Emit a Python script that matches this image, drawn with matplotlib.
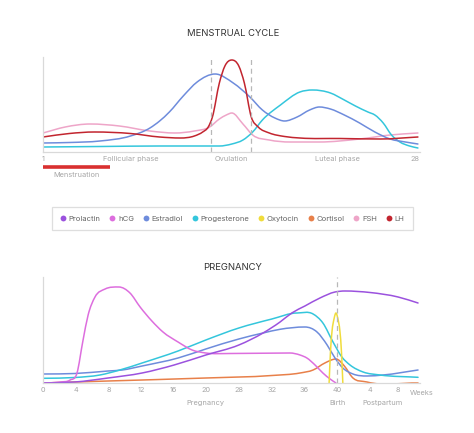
import numpy as np
import matplotlib
matplotlib.use("Agg")
import matplotlib.pyplot as plt
from matplotlib.path import Path
from matplotlib.patches import PathPatch
from matplotlib.lines import Line2D

plt.rcParams['font.family'] = ['Inter', 'DejaVu Sans']

# ---- colours of the hormones ----
hormones = ['Prolactin', 'hCG', 'Estradiol', 'Progesterone', 'Oxytocin', 'Cortisol', 'FSH', 'LH']
colors = {
    'Prolactin': '#9b52de',
    'hCG': '#dd6ede',
    'Estradiol': '#6e8cdc',
    'Progesterone': '#34c6dc',
    'Oxytocin': '#f0dc3c',
    'Cortisol': '#e8804a',
    'FSH': '#eea5c8',
    'LH': '#c2252f',
}

# ---- menstrual cycle (x = day of cycle) ----
lh_day = [1, 2.9, 4.7, 7.3, 9.4, 10.9, 11.9, 12.5, 12.9, 13.2, 13.7, 14.1, 14.6, 15.1, 15.5, 16.0, 16.5, 17.3, 18.4, 19.5, 22.4, 25.3, 28]
lh_val = [15, 18.5, 20, 18.5, 15, 14, 16, 20, 25, 35, 69, 86, 92, 86, 69, 35, 25, 19, 15.5, 14, 13.5, 13, 15]

fsh_day = [1, 2.6, 4.4, 6.5, 8.7, 10.5, 11.9, 13.0, 13.7, 14.2, 14.6, 15.4, 16.1, 17.3, 18.8, 20.9, 23.8, 26.0, 28]
fsh_val = [19, 25, 28, 26, 21, 19, 21, 25, 33, 37, 39, 28, 17, 12, 10, 10, 13, 17, 19]

estr_day = [1, 2.9, 5.1, 7.3, 8.7, 9.4, 10.1, 11.1, 12.1, 13.4, 14.7, 15.9, 16.8, 17.7, 18.4, 19.3, 20.2, 20.9, 21.7, 22.7, 23.8, 24.9, 26.0, 27.1, 28]
estr_val = [9, 9.5, 11, 16, 24, 31, 40, 56, 70, 78, 69, 55, 42, 34, 31, 35, 42, 45, 43, 37, 29, 20, 13, 10, 8]

prog_day = [1, 5.1, 9.4, 13.7, 14.6, 15.4, 16.1, 16.8, 18.1, 19.5, 20.4, 21.7, 22.7, 23.5, 24.4, 24.9, 25.5, 26.1, 26.7, 27.4, 28]
prog_val = [5, 5.5, 6, 6, 8, 12, 20, 32, 47, 60, 62, 59, 52, 46, 40, 37, 29, 17, 10, 6, 4]

ovulation_days = [13.1, 16.0]
menstruation_days = [1, 5.8]
cycle_ticks = [1, 7.3, 14.6, 22.2, 27.8]
cycle_labels = ['1', 'Follicular phase', 'Ovulation', 'Luteal phase', '28']

# ---- pregnancy (x = slot on the week axis) ----
week_pos = [0, 1, 2, 3, 4, 5, 6, 7, 8, 9, 10, 10.86]
week_labels = ['0', '4', '8', '12', '16', '20', '28', '32', '36', '40', '4', '8']

hcg_pos = [0, 0.52, 0.83, 1.04, 1.22, 1.38, 1.59, 1.90, 2.32, 2.66, 2.97, 3.33, 3.67, 4.13, 4.56, 4.98, 5.72, 7.55, 7.86, 8.07, 8.32, 8.56, 8.78, 8.96]
hcg_val = [0, 1, 3, 10, 42, 68, 86, 94, 96, 90, 76, 62, 51, 41, 33, 30, 29.5, 30, 28, 25, 18, 10, 4, 0]

prl_pos = [0, 0.98, 1.99, 3.03, 4.01, 4.98, 5.99, 6.73, 7.25, 7.61, 8.01, 8.47, 8.93, 9.24, 10.0, 10.86, 11.47]
prl_val = [0, 1, 5, 10, 18, 28, 38, 50, 61, 70, 77, 85, 91, 92, 90.5, 86, 80]

pprog_pos = [0, 0.98, 1.74, 2.35, 3.03, 4.13, 4.98, 5.99, 7.0, 7.77, 8.26, 8.56, 8.87, 9.14, 9.39, 9.79, 10.31, 11.47]
pprog_val = [4.7, 5.5, 8, 13, 20, 32, 43, 55, 64, 70, 69, 60, 41, 26, 18, 11, 8, 5.7]

pestr_pos = [0, 0.98, 1.99, 2.42, 3.03, 4.13, 4.98, 5.99, 6.73, 7.25, 8.01, 8.38, 8.69, 8.93, 9.17, 9.48, 9.91, 10.40, 11.47]
pestr_val = [9, 9.5, 12, 13, 17, 25, 34, 44, 50, 53.7, 56, 51, 38, 25, 15, 9, 7, 8, 13]

cort_pos = [0, 1.99, 4.98, 7.0, 7.86, 8.26, 8.62, 8.96, 9.24, 9.45, 9.91, 11.47]
cort_val = [0, 2, 5, 7.5, 10, 13, 20, 24, 16, 6, 1, 0]

oxy_pos = [8.75, 8.79, 8.84, 8.90, 8.96, 9.02, 9.08, 9.13, 9.17]
oxy_val = [0, 30, 52, 64, 70, 64, 52, 30, 0]

birth_pos = 9

GRID = '#d9d9d9'
LABEL = '#a6a6a6'


def smooth_curve(ax, xs, ys, color, lw=1.1):
    # cubic through the read points (parabolic slopes), drawn as bezier segments
    x = np.asarray(xs, float)
    y = np.asarray(ys, float)
    h = np.diff(x)
    d = np.diff(y) / h
    m = np.zeros_like(y)
    m[0], m[-1] = d[0], d[-1]
    for i in range(1, len(x) - 1):
        if d[i - 1] * d[i] > 0:
            m[i] = (h[i] * d[i - 1] + h[i - 1] * d[i]) / (h[i - 1] + h[i])
    verts = [(x[0], y[0])]
    codes = [Path.MOVETO]
    for i in range(len(x) - 1):
        verts += [(x[i] + h[i] / 3, y[i] + m[i] * h[i] / 3),
                  (x[i + 1] - h[i] / 3, y[i + 1] - m[i + 1] * h[i] / 3),
                  (x[i + 1], y[i + 1])]
        codes += [Path.CURVE4] * 3
    ax.add_patch(PathPatch(Path(verts, codes), fill=False, edgecolor=color,
                           lw=lw, capstyle='round', joinstyle='round'))


def style_axes(ax):
    for s in ['top', 'right']:
        ax.spines[s].set_visible(False)
    for s in ['left', 'bottom']:
        ax.spines[s].set_color(GRID)
        ax.spines[s].set_linewidth(0.9)
    ax.set_yticks([])
    ax.tick_params(axis='x', length=0, pad=3, labelsize=5.3, labelcolor=LABEL)


fig = plt.figure(figsize=(4.74, 4.33), dpi=100)

# ---------------- menstrual cycle ----------------
ax1 = fig.add_axes([43 / 474, 1 - 152 / 433, 377 / 474, 95 / 433])
style_axes(ax1)
ax1.set_xlim(1, 28.15)
ax1.set_ylim(0, 95)
ax1.set_xticks(cycle_ticks)
ax1.set_xticklabels(cycle_labels)

for d in ovulation_days:
    ax1.axvline(d, color='#b8b8b8', lw=0.9, dashes=(4, 3))

smooth_curve(ax1, fsh_day, fsh_val, colors['FSH'])
smooth_curve(ax1, prog_day, prog_val, colors['Progesterone'])
smooth_curve(ax1, estr_day, estr_val, colors['Estradiol'])
smooth_curve(ax1, lh_day, lh_val, colors['LH'])

trans1 = ax1.get_xaxis_transform()
ax1.plot(menstruation_days, [-0.163, -0.163], color='#d93030', lw=2.6,
         solid_capstyle='butt', transform=trans1, clip_on=False)
ax1.text(np.mean(menstruation_days), -0.242, 'Menstruation', transform=trans1,
         ha='center', va='center', fontsize=5.3, color=LABEL)

fig.text(233 / 474, 1 - 33 / 433, 'MENSTRUAL CYCLE', ha='center', va='center',
         fontsize=6.8, color='#333333')

# ---------------- legend ----------------
handles = [Line2D([], [], ls='none', marker='o', markersize=4.2,
                  markerfacecolor=colors[h], markeredgecolor='none', label=h)
           for h in hormones]
leg = fig.legend(handles=handles, loc='center', ncol=8,
                 bbox_to_anchor=(232.5 / 474, 1 - 218.5 / 433),
                 fontsize=5.5, frameon=True, fancybox=False,
                 handlelength=0.6, handletextpad=0.5, columnspacing=1.2,
                 borderpad=1.1, labelcolor='#666666')
leg.get_frame().set_edgecolor('#d6d6d6')
leg.get_frame().set_linewidth(0.9)

# ---------------- pregnancy ----------------
ax2 = fig.add_axes([43 / 474, 1 - 383 / 433, 377 / 474, 106 / 433])
style_axes(ax2)
ax2.set_xlim(0, 11.53)
ax2.set_ylim(0, 106)
ax2.set_xticks(week_pos)
ax2.set_xticklabels(week_labels)

ax2.axvline(birth_pos, color='#b8b8b8', lw=0.9, dashes=(4, 3))

smooth_curve(ax2, cort_pos, cort_val, colors['Cortisol'])
smooth_curve(ax2, pestr_pos, pestr_val, colors['Estradiol'])
smooth_curve(ax2, pprog_pos, pprog_val, colors['Progesterone'])
smooth_curve(ax2, hcg_pos, hcg_val, colors['hCG'])
smooth_curve(ax2, prl_pos, prl_val, colors['Prolactin'])
smooth_curve(ax2, oxy_pos, oxy_val, colors['Oxytocin'])

trans2 = ax2.get_xaxis_transform()
ax2.text(11.59, -0.094, 'Weeks', transform=trans2, ha='center', va='center',
         fontsize=5.3, color=LABEL)
ax2.text(4.96, -0.189, 'Pregnancy', transform=trans2, ha='center', va='center',
         fontsize=5.3, color=LABEL)
ax2.text(birth_pos, -0.189, 'Birth', transform=trans2, ha='center', va='center',
         fontsize=5.3, color=LABEL)
ax2.text(10.37, -0.189, 'Postpartum', transform=trans2, ha='center', va='center',
         fontsize=5.3, color=LABEL)

fig.text(233 / 474, 1 - 268 / 433, 'PREGNANCY', ha='center', va='center',
         fontsize=6.8, color='#333333')

fig.savefig('out.png', dpi=100)
